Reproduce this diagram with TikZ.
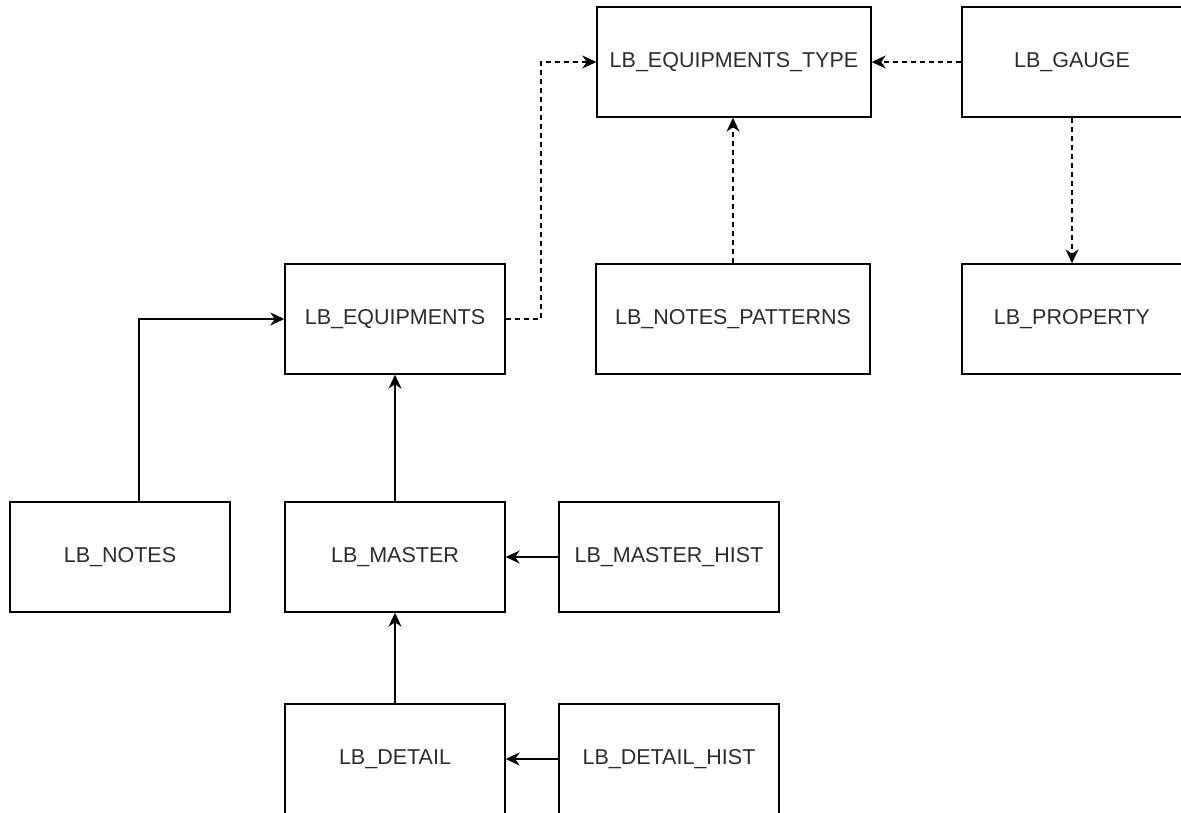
\documentclass[tikz,border=0pt]{standalone}
\usepackage{fontspec}
\setmainfont{Liberation Sans}
\usetikzlibrary{arrows.meta}
\definecolor{txt}{RGB}{45,45,45}
\begin{document}
\begin{tikzpicture}[x=1pt,y=-1pt,
  tbl/.style={draw=black,line width=1.4pt,minimum width=220pt,minimum height=110pt,inner sep=0pt,
    font=\fontsize{21.5}{24}\selectfont,text=txt},
  wide/.style={tbl,minimum width=274pt},
  conn/.style={line width=1.3pt,-{Stealth[length=14pt,width=13pt,inset=4.5pt]}},
  dconn/.style={conn,dash pattern=on 5pt off 4pt}]
\useasboundingbox (0,0) rectangle (1181,812);
\node[wide] (type) at (734,62) {LB\_EQUIPMENTS\_TYPE};
\node[tbl] (gauge) at (1072,62) {LB\_GAUGE};
\node[tbl] (equip) at (395,319) {LB\_EQUIPMENTS};
\node[wide] (npat) at (733,319) {LB\_NOTES\_PATTERNS};
\node[tbl] (prop) at (1072,319) {LB\_PROPERTY};
\node[tbl] (notes) at (120,557) {LB\_NOTES};
\node[tbl] (master) at (395,557) {LB\_MASTER};
\node[tbl] (mhist) at (669,557) {LB\_MASTER\_HIST};
\node[tbl] (detail) at (395,759) {LB\_DETAIL};
\node[tbl] (dhist) at (669,759) {LB\_DETAIL\_HIST};
\coordinate (bend) at (541,0);
\draw[dconn] (equip.east) -| (bend |- equip.east) |- (type.west);
\draw[dconn] (gauge.west) -- (type.east);
\draw[dconn] (npat.north) -- (npat.north |- type.south);
\draw[dconn] (gauge.south) -- (prop.north);
\draw[conn] ([xshift=19pt]notes.north) |- (equip.west);
\draw[conn] (master.north) -- (equip.south);
\draw[conn] (mhist.west) -- (master.east);
\draw[conn] (detail.north) -- (master.south);
\draw[conn] (dhist.west) -- (detail.east);
\end{tikzpicture}
\end{document}
